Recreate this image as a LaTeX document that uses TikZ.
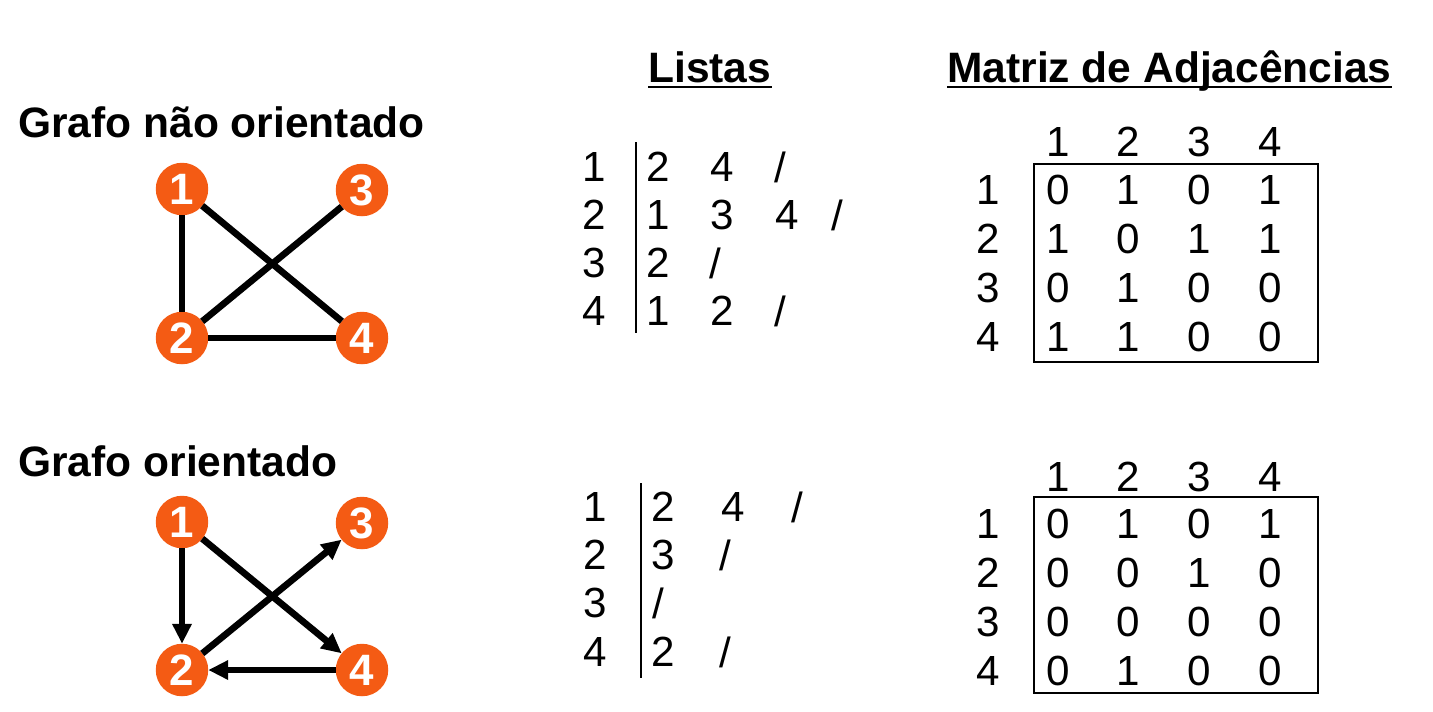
\documentclass[tikz,border=0pt]{standalone}
\usepackage{fontspec}
\setmainfont{Liberation Sans}
\usetikzlibrary{arrows.meta}
\definecolor{vorange}{RGB}{244,91,20}

\begin{document}
\begin{tikzpicture}[x=0.02cm,y=-0.02cm,
		vert/.style={circle,fill=vorange,text=white,font=\fontsize{25}{25}\selectfont\bfseries,minimum size=1.05cm,inner sep=0pt,outer sep=0pt},
		edge/.style={line width=3.8pt},
		arc/.style={line width=3.8pt,-{Triangle[length=0.4cm,width=0.37cm]}},
		title/.style={anchor=base west,inner sep=0pt,font=\fontsize{24.2}{24}\selectfont\bfseries},
		num/.style={inner sep=0pt,font=\fontsize{24}{24}\selectfont}]
		%%%%% START %%%%%
		\useasboundingbox (0,0) rectangle (1433,711);
		
		\node[title] (tundir) at (18,137) {Grafo não orientado};
		\node[title] (tdir) at (18,476) {Grafo orientado};
		\node[title] (tlist) at (648,82) {Listas};
		\node[title] (tmat) at (947,82) {Matriz de Adjacências};
		\draw[line width=1.5pt] ([yshift=-0.1cm]tlist.base west) -- ([yshift=-0.1cm]tlist.base east);
		\draw[line width=1.5pt] ([yshift=-0.1cm]tmat.base west) -- ([yshift=-0.1cm]tmat.base east);
		
		% grafo nao orientado
		\node[vert] (u1) at (182,189) {1};
		\node[vert] (u3) at (362,190) {3};
		\node[vert] (u2) at (182,338) {2};
		\node[vert] (u4) at (362,338) {4};
		\draw[edge] (u1) -- (u2);
		\draw[edge] (u1) -- (u4);
		\draw[edge] (u3) -- (u2);
		\draw[edge] (u2) -- (u4);
		
		% grafo orientado
		\node[vert] (d1) at (182,522) {1};
		\node[vert] (d3) at (362,523) {3};
		\node[vert] (d2) at (182,670) {2};
		\node[vert] (d4) at (362,670) {4};
		\draw[arc] (d1) -- (d2);
		\draw[arc] (d1) -- (d4);
		\draw[arc] (d2) -- (d3);
		\draw[arc] (d4) -- (d2);
		
		% listas (nao orientado)
		\draw[line width=1.1pt] (636,142) -- (636,333);
		\foreach \i/\y in {1/167,2/215,3/263,4/311}
		\node[num] (ul\i) at (594,\y) {\i};
		\node[num] (ul1a) at (658,167) {2};
		\node[num] (ul1b) at (722,167) {4};
		\node[num] (ul1c) at (780,167) {/};
		\node[num] (ul2a) at (658,215) {1};
		\node[num] (ul2b) at (722,215) {3};
		\node[num] (ul2c) at (787,215) {4};
		\node[num] (ul2d) at (837,215) {/};
		\node[num] (ul3a) at (658,263) {2};
		\node[num] (ul3b) at (715,263) {/};
		\node[num] (ul4a) at (658,311) {1};
		\node[num] (ul4b) at (722,311) {2};
		\node[num] (ul4c) at (780,311) {/};
		
		% listas (orientado)
		\draw[line width=1.1pt] (641,483) -- (641,678);
		\foreach \i/\y in {1/507,2/555,3/603,4/652}
		\node[num] (dl\i) at (595,\y) {\i};
		\node[num] (dl1a) at (663,507) {2};
		\node[num] (dl1b) at (733,507) {4};
		\node[num] (dl1c) at (797,507) {/};
		\node[num] (dl2a) at (663,555) {3};
		\node[num] (dl2b) at (725,555) {/};
		\node[num] (dl3a) at (658,603) {/};
		\node[num] (dl4a) at (663,652) {2};
		\node[num] (dl4b) at (725,652) {/};
		
		% matriz (nao orientado)
		\draw[line width=1.1pt] (1034,164) rectangle (1318,362);
		\foreach \j in {1,...,4}
		\node[num] (um-h\j) at ({1058+70.7*(\j-1)},142) {\j};
		\foreach \row [count=\i] in {{0,1,0,1},{1,0,1,1},{0,1,0,0},{1,1,0,0}} {
			\node[num] (um-r\i) at (988,{141+49*\i}) {\i};
			\foreach \v [count=\j] in \row
			\node[num] (um-\i-\j) at ({1058+70.7*(\j-1)},{141+49*\i}) {\v};
		}
		
		% matriz (orientado)
		\draw[line width=1.1pt] (1034,497) rectangle (1318,693);
		\foreach \j in {1,...,4}
		\node[num] (dm-h\j) at ({1058+70.7*(\j-1)},477) {\j};
		\foreach \row [count=\i] in {{0,1,0,1},{0,0,1,0},{0,0,0,0},{0,1,0,0}} {
			\node[num] (dm-r\i) at (988,{475+49*\i}) {\i};
			\foreach \v [count=\j] in \row
			\node[num] (dm-\i-\j) at ({1058+70.7*(\j-1)},{475+49*\i}) {\v};
		}
		
		%%%%% END %%%%%
	\end{tikzpicture}
\end{document}
